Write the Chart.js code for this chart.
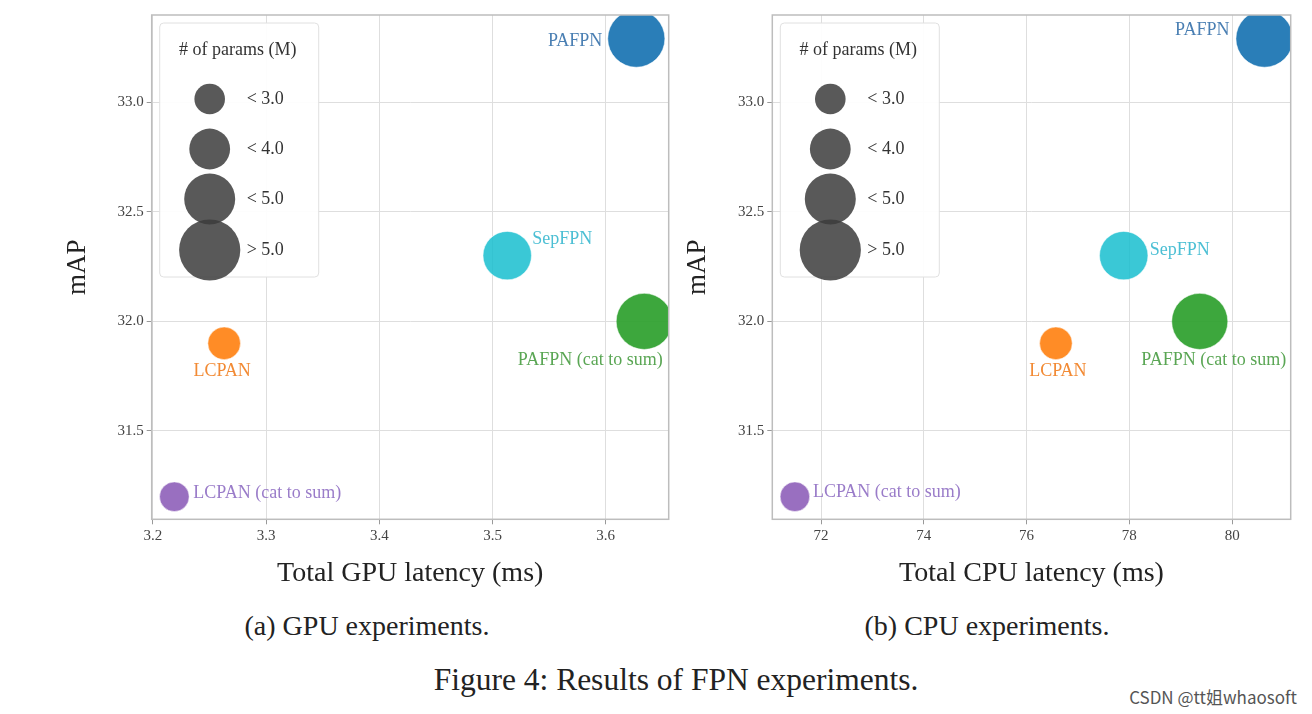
<!DOCTYPE html>
<html>
<head>
<meta charset="utf-8">
<title>Results of FPN experiments</title>
<script src="https://cdn.jsdelivr.net/npm/chart.js@4.4.1/dist/chart.umd.min.js"></script>
<style>
  body {
    margin: 0;
    background: #fff;
    width: 1312px;
    height: 714px;
    position: relative;
    overflow: hidden;
    font-family: "Liberation Serif", "DejaVu Serif", serif;
  }
  .plot { position: absolute; top: 0; }
  #gpuChart { left: 0; }
  #cpuChart { left: 620px; }
  .cap {
    position: absolute;
    font-size: 28px;
    color: #222;
    white-space: nowrap;
    transform: translate(-50%, -50%);
  }
  #mark {
    position: absolute;
    right: 15px;
    top: 684px;
    font-family: "Noto Sans CJK SC", "Noto Sans", sans-serif;
    font-size: 17px;
    color: #555;
  }
</style>
</head>
<body>
<canvas class="plot" id="gpuChart" width="690" height="600"></canvas>
<canvas class="plot" id="cpuChart" width="692" height="600"></canvas>
<div class="cap" style="left:367px; top:626px;">(a) GPU experiments.</div>
<div class="cap" style="left:987px; top:626px;">(b) CPU experiments.</div>
<div class="cap" style="left:676px; top:680px; font-size:31.5px;">Figure 4: Results of FPN experiments.</div>
<div id="mark">CSDN @tt姐whaosoft</div>

<script>
  // data
  const models = ['PAFPN', 'SepFPN', 'PAFPN (cat to sum)', 'LCPAN', 'LCPAN (cat to sum)'];
  const gpuLatency = [3.627, 3.513, 3.634, 3.263, 3.219];
  const cpuLatency = [80.63, 77.89, 79.37, 76.57, 71.49];
  const mAP = [33.29, 32.30, 32.00, 31.90, 31.20];
  const params = [5.6, 4.75, 5.5, 3.2, 2.9];   // # of params (M)

  const legendParams = [3, 4, 5, 6];
  const legendLabels = ['< 3.0', '< 4.0', '< 5.0', '> 5.0'];

  const gpuTicks = [3.2, 3.3, 3.4, 3.5, 3.6];
  const cpuTicks = [72, 74, 76, 78, 80];
  const mapTicks = [31.5, 32.0, 32.5, 33.0];

  // styles
  const colors = ['rgba(31,119,180,0.95)', 'rgba(23,190,207,0.85)', 'rgba(44,160,44,0.92)',
                  'rgba(255,127,14,0.9)', 'rgba(148,103,189,0.95)'];
  const textColors = ['#4a7fb3', '#4cbfd4', '#5aa654', '#f28a34', '#9a7cc9'];
  const SERIF = '"Liberation Serif", "DejaVu Serif", serif';
  const R_PER_M = 5.1;   // bubble radius px per M params

  const gpuLabelPos = [
    { align: 'right', dx: -34, dy: 3 },
    { align: 'left', dx: 25, dy: -16 },
    { align: 'center', dx: -54, dy: 39 },
    { align: 'center', dx: -2, dy: 28 },
    { align: 'left', dx: 19, dy: -3 }
  ];
  const cpuLabelPos = [
    { align: 'right', dx: -35, dy: -8 },
    { align: 'left', dx: 26, dy: -5 },
    { align: 'center', dx: 14, dy: 39 },
    { align: 'center', dx: 2, dy: 28 },
    { align: 'left', dx: 18, dy: -4 }
  ];

  const decor = {
    id: 'decor',
    afterDatasetsDraw(chart, args, opts) {
      const ctx = chart.ctx;
      const meta = chart.getDatasetMeta(0);
      ctx.save();
      ctx.font = '18px ' + SERIF;
      ctx.textBaseline = 'middle';
      meta.data.forEach((pt, i) => {
        const p = opts.labelPos[i];
        ctx.fillStyle = textColors[i];
        ctx.textAlign = p.align;
        ctx.fillText(models[i], pt.x + p.dx, pt.y + p.dy);
      });
      ctx.restore();
    },
    afterDraw(chart) {
      const ctx = chart.ctx;
      const ca = chart.chartArea;
      ctx.save();
      // frame
      ctx.strokeStyle = '#bdbdbd';
      ctx.lineWidth = 1.5;
      ctx.strokeRect(ca.left, ca.top, ca.right - ca.left, ca.bottom - ca.top);

      // size legend
      const bx = ca.left + 8, by = ca.top + 8, bw = 159, bh = 254;
      ctx.beginPath();
      ctx.roundRect(bx, by, bw, bh, 4);
      ctx.fillStyle = 'rgba(255,255,255,0.92)';
      ctx.fill();
      ctx.strokeStyle = '#e0e0e0';
      ctx.lineWidth = 1;
      ctx.stroke();

      ctx.fillStyle = '#333';
      ctx.font = '18px ' + SERIF;
      ctx.textAlign = 'center';
      ctx.textBaseline = 'middle';
      ctx.fillText('# of params (M)', bx + 78, by + 27);

      const rowY = [76, 126, 176, 227];
      legendParams.forEach((m, i) => {
        ctx.beginPath();
        ctx.arc(bx + 50, by + rowY[i], m * R_PER_M, 0, Math.PI * 2);
        ctx.fillStyle = 'rgba(60,60,60,0.85)';
        ctx.fill();
      });
      ctx.fillStyle = '#333';
      ctx.textAlign = 'left';
      legendLabels.forEach((t, i) => {
        ctx.fillText(t, bx + 87, by + rowY[i]);
      });
      ctx.restore();
    }
  };

  function makeChart(id, xValues, xTicks, xMin, xMax, xDec, xTitle, yWidth, labelPos) {
    const ctx = document.getElementById(id).getContext('2d');
    return new Chart(ctx, {
      type: 'bubble',
      data: {
        datasets: [{
          data: xValues.map((x, i) => ({ x: x, y: mAP[i], r: params[i] * R_PER_M })),
          backgroundColor: colors,
          borderColor: 'rgba(255,255,255,0.5)',
          borderWidth: 1,
          hoverRadius: 0,
          clip: 0
        }]
      },
      options: {
        responsive: false,
        animation: false,
        events: [],
        layout: { autoPadding: false, padding: { top: 15, right: 21.3, left: 0, bottom: 0 } },
        plugins: {
          legend: { display: false },
          tooltip: { enabled: false },
          decor: { labelPos: labelPos }
        },
        scales: {
          x: {
            type: 'linear',
            min: xMin,
            max: xMax,
            afterBuildTicks: s => { s.ticks = xTicks.map(v => ({ value: v })); },
            afterFit: s => { s.height = 80.7; },
            grid: { color: '#dedede', lineWidth: 1, tickLength: 5, tickColor: '#999' },
            border: { display: false },
            ticks: {
              font: { family: SERIF, size: 15 },
              color: '#444',
              padding: 3,
              maxRotation: 0,
              callback: v => v.toFixed(xDec)
            },
            title: {
              display: true,
              text: xTitle,
              color: '#222',
              font: { family: SERIF, size: 28 },
              padding: { top: 0, bottom: 10 }
            }
          },
          y: {
            type: 'linear',
            min: 31.097,
            max: 33.398,
            afterBuildTicks: s => { s.ticks = mapTicks.map(v => ({ value: v })); },
            afterFit: s => { s.width = yWidth; },
            grid: { color: '#dedede', lineWidth: 1, tickLength: 5, tickColor: '#999' },
            border: { display: false },
            ticks: {
              font: { family: SERIF, size: 15 },
              color: '#444',
              padding: 3,
              callback: v => v.toFixed(1)
            },
            title: {
              display: true,
              text: 'mAP',
              color: '#222',
              font: { family: SERIF, size: 27 },
              padding: { top: 62, bottom: 0 }
            }
          }
        }
      },
      plugins: [decor]
    });
  }

  makeChart('gpuChart', gpuLatency, gpuTicks, 3.199, 3.6556, 1, 'Total GPU latency (ms)', 151.7, gpuLabelPos);
  makeChart('cpuChart', cpuLatency, cpuTicks, 71.05, 81.14, 0, 'Total CPU latency (ms)', 152.3, cpuLabelPos);
</script>
</body>
</html>
